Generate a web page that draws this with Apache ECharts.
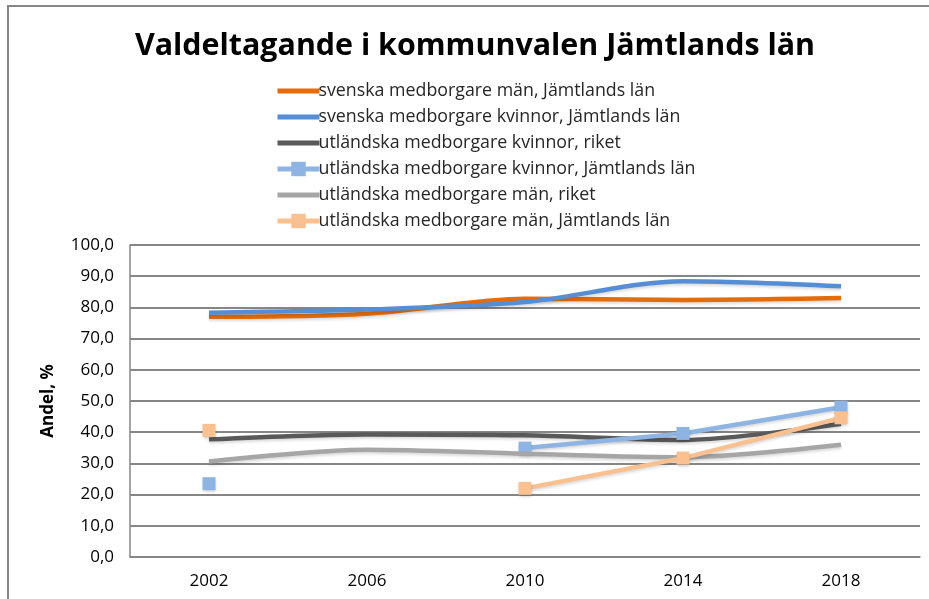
<!DOCTYPE html>
<html>
<head>
<meta charset="utf-8">
<script src="https://cdn.jsdelivr.net/npm/echarts@6/dist/echarts.min.js"></script>
<style>
html,body{margin:0;padding:0;background:#fff;}
#chart{width:929px;height:599px;}
</style>
</head>
<body>
<div id="chart"></div>
<script>
const years = ['2002', '2006', '2010', '2014', '2018'];
const yTicks = [0, 10, 20, 30, 40, 50, 60, 70, 80, 90, 100];
const svMan = [77.0, 78.0, 82.8, 82.4, 83.0];
const svKvinnor = [78.3, 79.3, 81.7, 88.4, 86.8];
const utlKvinnorRiket = [37.7, 39.3, 39.0, 37.5, 42.7];
const utlKvinnorJamt = [23.5, null, 34.9, 39.6, 48.0];
const utlManRiket = [30.6, 34.4, 33.1, 32.0, 36.0];
const utlManJamt = [40.6, null, 22.0, 31.7, 44.6];
const names = [
  'svenska medborgare män, Jämtlands län',
  'svenska medborgare kvinnor, Jämtlands län',
  'utländska medborgare kvinnor, riket',
  'utländska medborgare kvinnor, Jämtlands län',
  'utländska medborgare män, riket',
  'utländska medborgare män, Jämtlands län'
];
const colors = ['#E46C0A', '#558ED5', '#595959', '#8DB4E2', '#A6A6A6', '#FAC090'];
const dataSets = [svMan, svKvinnor, utlKvinnorRiket, utlKvinnorJamt, utlManRiket, utlManJamt];
const hasMarker = [false, false, false, true, false, true];

const font = '"Open Sans", "Liberation Sans", sans-serif';
const chart = echarts.init(document.getElementById('chart'));

const series = dataSets.map((d, i) => ({
  name: names[i],
  type: 'line',
  data: d,
  smooth: hasMarker[i] ? false : 0.3,
  connectNulls: false,
  symbol: hasMarker[i] ? 'rect' : 'none',
  symbolSize: 13,
  showSymbol: hasMarker[i],
  lineStyle: { color: colors[i], width: 4.5, shadowColor: 'rgba(0,0,0,0.15)', shadowBlur: 3, shadowOffsetY: 2 },
  itemStyle: { color: colors[i], shadowColor: 'rgba(0,0,0,0.2)', shadowBlur: 3, shadowOffsetY: 2 },
  emphasis: { disabled: true },
  z: 2 + i
}));

chart.setOption({
  animation: false,
  backgroundColor: '#ffffff',
  title: {
    text: 'Valdeltagande i kommunvalen Jämtlands län',
    left: 470,
    textAlign: 'center',
    top: 26,
    textStyle: { fontFamily: font, fontSize: 30.4, fontWeight: 'bold', color: '#000000' }
  },
  legend: {
    orient: 'vertical',
    left: 270,
    top: 76,
    itemGap: 6,
    itemWidth: 42,
    itemHeight: 18,
    data: names.map((n, i) => hasMarker[i] ? { name: n } : {
      name: n,
      itemStyle: { opacity: 0, color: 'rgba(0,0,0,0)', borderWidth: 0 }
    }),
    lineStyle: { width: 5 },
    textStyle: { fontFamily: font, fontSize: 17.8, lineHeight: 20, color: '#262626', padding: [0, 0, 0, -6] }
  },
  grid: { left: 130, right: 9, top: 245, bottom: 42, containLabel: false },
  xAxis: {
    type: 'category',
    data: years,
    boundaryGap: true,
    axisLine: { lineStyle: { color: '#868686', width: 1.5 } },
    axisTick: { show: false },
    axisLabel: { fontFamily: font, fontSize: 17, color: '#000000', margin: 16 }
  },
  yAxis: {
    type: 'value',
    min: yTicks[0],
    max: yTicks[yTicks.length - 1],
    interval: 10,
    name: 'Andel, %',
    nameLocation: 'middle',
    nameGap: 73,
    nameRotate: 90,
    nameTextStyle: { fontFamily: font, fontSize: 17, fontWeight: 'bold', color: '#000000' },
    axisLine: { show: true, lineStyle: { color: '#868686', width: 1.5 } },
    axisTick: { show: false },
    splitLine: { lineStyle: { color: '#868686', width: 2 } },
    axisLabel: {
      fontFamily: font, fontSize: 17, color: '#000000', margin: 16,
      formatter: v => v.toFixed(1).replace('.', ',')
    }
  },
  graphic: [{
    type: 'rect',
    shape: { x: 8, y: 6, width: 1000, height: 700 },
    style: { fill: 'none', stroke: '#868686', lineWidth: 2 },
    silent: true,
    z: -1
  }],
  series: series
});
</script>
</body>
</html>
